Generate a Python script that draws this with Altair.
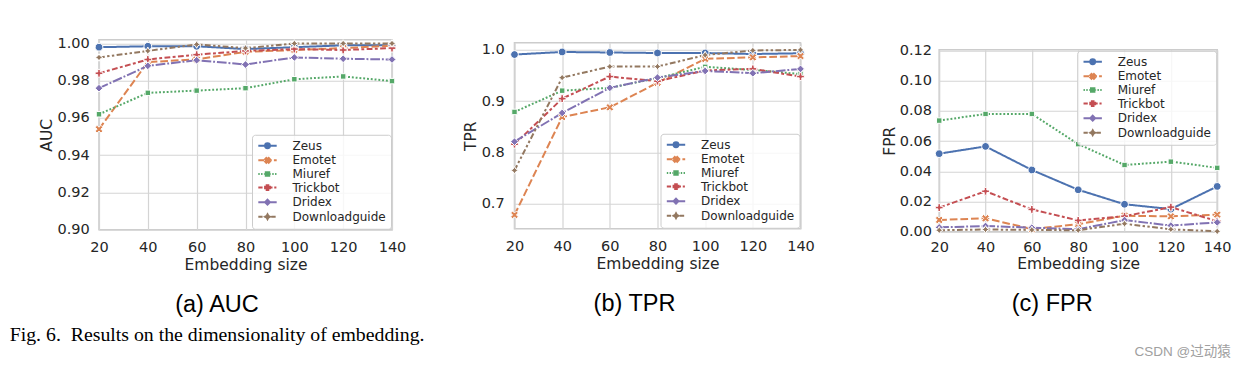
import altair as alt
import pandas as pd

sizes = [20, 40, 60, 80, 100, 120, 140]
series = ["Zeus", "Emotet", "Miuref", "Trickbot", "Dridex", "Downloadguide"]
colors = ["#4C72B0", "#DD8452", "#55A868", "#C44E52", "#8172B3", "#937860"]

# AUC
auc_zeus = [0.998, 0.9985, 0.9985, 0.997, 0.998, 0.999, 0.999]
auc_emotet = [0.954, 0.990, 0.9915, 0.9955, 0.9965, 0.9975, 0.9988]
auc_miuref = [0.962, 0.9735, 0.9747, 0.976, 0.9808, 0.9823, 0.9798]
auc_trickbot = [0.984, 0.9914, 0.994, 0.996, 0.997, 0.9965, 0.9975]
auc_dridex = [0.976, 0.988, 0.991, 0.9887, 0.9925, 0.9918, 0.9914]
auc_download = [0.9925, 0.996, 0.9995, 0.9975, 1.0, 1.0, 1.0]

# TPR
tpr_zeus = [0.991, 0.996, 0.995, 0.994, 0.994, 0.992, 0.9935]
tpr_emotet = [0.678, 0.869, 0.888, 0.936, 0.9825, 0.9855, 0.988]
tpr_miuref = [0.879, 0.9205, 0.926, 0.945, 0.967, 0.961, 0.953]
tpr_trickbot = [0.816, 0.905, 0.948, 0.939, 0.960, 0.963, 0.948]
tpr_dridex = [0.821, 0.877, 0.926, 0.946, 0.959, 0.9545, 0.963]
tpr_download = [0.765, 0.946, 0.9675, 0.9675, 0.990, 0.999, 1.0]

# FPR
fpr_zeus = [0.0517, 0.0565, 0.0409, 0.0278, 0.0182, 0.0150, 0.0300]
fpr_emotet = [0.0078, 0.0089, 0.0018, 0.0050, 0.0106, 0.0102, 0.0113]
fpr_miuref = [0.0736, 0.0780, 0.0780, 0.0580, 0.0442, 0.0464, 0.0423]
fpr_trickbot = [0.0160, 0.0268, 0.0148, 0.0075, 0.0103, 0.0163, 0.0070]
fpr_dridex = [0.0029, 0.0038, 0.0027, 0.0017, 0.0077, 0.0041, 0.0062]
fpr_download = [0.0010, 0.0015, 0.0012, 0.0010, 0.0053, 0.0016, 0.0003]

auc_ticks = [0.90, 0.92, 0.94, 0.96, 0.98, 1.00]
tpr_ticks = [0.7, 0.8, 0.9, 1.0]
fpr_ticks = [0.00, 0.02, 0.04, 0.06, 0.08, 0.10, 0.12]

subcaptions = ["(a) AUC", "(b) TPR", "(c) FPR"]
caption = "Fig. 6.\u00a0 Results on the dimensionality of embedding."
watermark = "CSDN @过动猿"

# ---- styles ----
dashes = [[1, 0], [7.7, 2.9], [1.9, 1.9], [5.8, 2.4, 2.9, 2.4],
          [9.7, 1.9, 1.9, 1.9], [5.8, 2.4, 2.4, 2.4, 2.4, 2.4]]


def poly(pts, k=1.0):
    return "M" + "L".join(f"{x * k:.3f},{y * k:.3f}" for x, y in pts) + "Z"


def circle(k=1.0):
    return f"M{-k:.3f},0A{k:.3f},{k:.3f} 0 1,0 {k:.3f},0A{k:.3f},{k:.3f} 0 1,0 {-k:.3f},0Z"


x_pts = [(-0.5, -1), (0, -0.5), (0.5, -1), (1, -0.5), (0.5, 0), (1, 0.5),
         (0.5, 1), (0, 0.5), (-0.5, 1), (-1, 0.5), (-0.5, 0), (-1, -0.5)]
t = 1 / 3
p_pts = [(-t, -1), (t, -1), (t, -t), (1, -t), (1, t), (t, t), (t, 1), (-t, 1),
         (-t, t), (-1, t), (-1, -t), (-t, -t)]
s = 0.7071
sq_pts = [(-s, -s), (s, -s), (s, s), (-s, s)]
d_pts = [(0, -1), (1, 0), (0, 1), (-1, 0)]
i = 0.354
st_pts = [(0, -1), (i, -i), (1, 0), (i, i), (0, 1), (-i, i), (-1, 0), (-i, -i)]


def marker(idx, k):
    if idx == 0:
        return circle(k)
    return poly([x_pts, x_pts, sq_pts, p_pts, d_pts, st_pts][idx], k)


marker_paths = [marker(j, 1.0) for j in range(6)]

# legend symbols: dashed line segment + marker
LEG_SIZE = 100
UNIT = 6.8  # observed pixel size of one path unit in the legend


def legend_path(idx):
    pat = dashes[idx]
    half = 12.5
    gap = 4.0
    segs = []
    pos = -half
    on = True
    j = 0
    while pos < half:
        ln = pat[j % len(pat)]
        end = min(pos + ln, half)
        if on and ln > 0:
            a, b = pos, end
            for lo, hi in ((a, min(b, -gap)), (max(a, gap), b)):
                if hi > lo:
                    segs.append(f"M{lo / UNIT:.3f},0H{hi / UNIT:.3f}")
        pos = end
        on = not on
        j += 1
    return "".join(segs) + marker(idx, 3.3 / UNIT)


legend_paths = [legend_path(j) for j in range(6)]


def long_df(cols):
    rows = []
    for name, vals in zip(series, cols):
        for x, v in zip(sizes, vals):
            rows.append({"size": x, "series": name, "value": v})
    return pd.DataFrame(rows)


def panel(df, ytitle, ydomain, yticks, yfmt, width, height, lorient, lpy, tpy,
          lpx, sub, sub_dx):
    xenc = alt.X("size:Q", scale=alt.Scale(domain=[20, 140], nice=False, zero=False),
                 axis=alt.Axis(values=sizes, title="Embedding size", labelPadding=lpx,
                               titlePadding=3, labelFlush=False))
    yenc = alt.Y("value:Q", scale=alt.Scale(domain=ydomain, nice=False, zero=False),
                 axis=alt.Axis(values=yticks, format=yfmt, title=ytitle,
                               labelPadding=lpy, titlePadding=tpy, labelFlush=False))
    cscale = alt.Scale(domain=series, range=colors)
    base = alt.Chart(df)
    lines = base.mark_line(strokeWidth=2).encode(
        x=xenc, y=yenc,
        color=alt.Color("series:N", scale=cscale, legend=None),
        strokeDash=alt.StrokeDash("series:N", scale=alt.Scale(domain=series, range=dashes),
                                  legend=None),
    )
    pts = base.mark_point(filled=True, size=60, stroke="white", strokeWidth=1,
                          opacity=1).encode(
        x=xenc, y=yenc,
        color=alt.Color("series:N", scale=cscale, legend=None),
        shape=alt.Shape("series:N", scale=alt.Scale(domain=series, range=marker_paths),
                        legend=None),
    )
    leg = alt.Legend(title=None, orient=lorient, offset=1, padding=5,
                     labelFont="DejaVu Sans", labelFontSize=12, labelColor="#262626",
                     symbolSize=LEG_SIZE, symbolStrokeWidth=2, symbolOffset=4.5,
                     labelOffset=19, rowPadding=0.6,
                     fillColor="rgba(255,255,255,0.8)", strokeColor="#cccccc",
                     cornerRadius=3)
    legl = base.transform_filter("false").mark_point(
        filled=True, opacity=1, size=LEG_SIZE, strokeWidth=2).encode(
        color=alt.Color("series:N", scale=cscale, legend=leg),
        stroke=alt.Stroke("series:N", scale=cscale, legend=leg),
        shape=alt.Shape("series:N", scale=alt.Scale(domain=series, range=legend_paths),
                        legend=leg),
    )
    return alt.layer(lines, pts, legl).resolve_scale(
        color="independent", shape="independent", stroke="independent",
        strokeDash="independent"
    ).properties(
        width=width, height=height,
        title=alt.TitleParams(sub, orient="bottom", anchor="middle", frame="group",
                              dx=sub_dx, offset=20, fontSize=23.5,
                              font="Liberation Sans", fontWeight="normal",
                              color="black"),
    )


def spacer(width, height):
    return alt.Chart(pd.DataFrame({"v": [0]})).transform_filter("false").mark_point().properties(
        width=width, height=height,
        view=alt.ViewBackground(fill="transparent", stroke="transparent", strokeWidth=0),
    )


auc_df = long_df([auc_zeus, auc_emotet, auc_miuref, auc_trickbot, auc_dridex, auc_download])
tpr_df = long_df([tpr_zeus, tpr_emotet, tpr_miuref, tpr_trickbot, tpr_dridex, tpr_download])
fpr_df = long_df([fpr_zeus, fpr_emotet, fpr_miuref, fpr_trickbot, fpr_dridex, fpr_download])

p1 = panel(auc_df, "AUC", [0.90, 1.002], auc_ticks, ".2f", 293, 190, "bottom-right",
           9.7, 3, 11, subcaptions[0], -28.5)
p2 = panel(tpr_df, "TPR", [0.651, 1.014], tpr_ticks, ".1f", 286, 186, "bottom-right",
           10.3, 2.7, 11, subcaptions[1], -23)
p3 = panel(fpr_df, "FPR", [0.0, 0.1205], fpr_ticks, ".2f", 278, 182, "top-right",
           7.7, 2, 8.5, subcaptions[2], -26)

col2 = alt.vconcat(spacer(286, 0.2), p2, spacing=0)
col3 = alt.vconcat(spacer(278, 1.0), p3, spacing=0)
right = alt.hconcat(col2, col3, spacing=65.7)
outer = alt.hconcat(p1, right, spacing=55.5).properties(
    title=alt.TitleParams(caption, orient="bottom", anchor="start", dx=-28.5, offset=8,
                          fontSize=19.8, font="Liberation Serif", fontWeight="normal",
                          color="black")
)
chart = alt.vconcat(outer).properties(
    title=alt.TitleParams(watermark, orient="bottom", anchor="end", dx=-1, offset=0,
                          fontSize=13.5, font="Liberation Sans, Noto Sans CJK SC",
                          fontWeight="normal", color="#a0a0a0"),
    padding={"left": 1, "top": 25.75, "right": 5, "bottom": 5},
).configure_view(
    stroke="#cccccc", strokeWidth=1.6
).configure_axis(
    grid=True, gridColor="#d4d4d4", gridWidth=1.2, domain=False, ticks=False, tickSize=0,
    labelFont="DejaVu Sans", labelFontSize=14.5, labelColor="#262626",
    titleFont="DejaVu Sans", titleFontSize=15.5, titleColor="#262626",
    titleFontWeight="normal",
)

chart.save("out.html", embed_options={"renderer": "svg", "actions": False})
